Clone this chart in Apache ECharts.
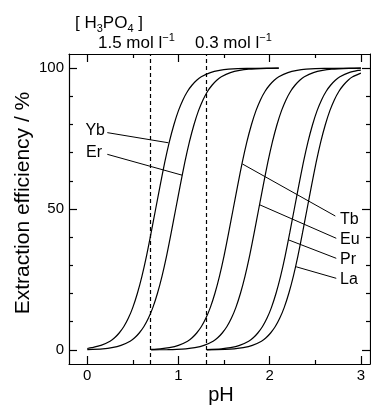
<!DOCTYPE html>
<html>
<head>
<meta charset="utf-8">
<script src="https://cdn.jsdelivr.net/npm/echarts@6/dist/echarts.min.js"></script>
<style>
  html, body { margin: 0; padding: 0; background: #fff; }
  #chart { width: 371px; height: 405px; }
</style>
</head>
<body>
<div id="chart"></div>
<script>
// extraction efficiency (%) vs pH
var ybPH = [0, 0.05, 0.15, 0.25, 0.30, 0.35, 0.40, 0.45, 0.50, 0.55, 0.60, 0.65, 0.70, 0.75, 0.80, 0.85, 0.90, 0.95, 1.00, 1.05, 1.10, 1.15, 1.20, 1.25, 1.35, 1.45, 1.55, 1.75, 2.1];
var ybE  = [0.5, 0.8, 1.6, 3.1, 4.3, 6.0, 8.2, 11.2, 15.1, 20.1, 26.2, 33.4, 41.5, 50, 58.5, 66.6, 73.8, 79.9, 84.9, 88.8, 91.8, 94.0, 95.7, 96.9, 98.4, 99.2, 99.6, 99.9, 100];

var erPH = [0, 0.17, 0.27, 0.37, 0.47, 0.52, 0.57, 0.62, 0.67, 0.72, 0.77, 0.82, 0.87, 0.92, 0.97, 1.02, 1.07, 1.12, 1.17, 1.22, 1.27, 1.32, 1.37, 1.42, 1.47, 1.57, 1.67, 1.77, 1.97, 2.1];
var erE  = [0.1, 0.4, 0.8, 1.6, 3.1, 4.3, 6.0, 8.2, 11.2, 15.1, 20.1, 26.2, 33.4, 41.5, 50, 58.5, 66.6, 73.8, 79.9, 84.9, 88.8, 91.8, 94.0, 95.7, 96.9, 98.4, 99.2, 99.6, 99.9, 100];

var tbPH = [0.7, 0.8, 0.9, 1.0, 1.1, 1.15, 1.2, 1.25, 1.3, 1.35, 1.4, 1.45, 1.5, 1.55, 1.6, 1.65, 1.7, 1.75, 1.8, 1.85, 1.9, 1.95, 2.0, 2.05, 2.1, 2.2, 2.3, 2.4, 2.6, 3.0];
var tbE  = [0.2, 0.4, 0.8, 1.6, 3.1, 4.3, 6.0, 8.2, 11.2, 15.1, 20.1, 26.2, 33.4, 41.5, 50, 58.5, 66.6, 73.8, 79.9, 84.9, 88.8, 91.8, 94.0, 95.7, 96.9, 98.4, 99.2, 99.6, 99.9, 100];

var euPH = [0.7, 0.88, 0.98, 1.08, 1.18, 1.28, 1.38, 1.43, 1.48, 1.53, 1.58, 1.63, 1.68, 1.73, 1.78, 1.83, 1.88, 1.93, 1.98, 2.03, 2.08, 2.13, 2.18, 2.23, 2.28, 2.33, 2.38, 2.48, 2.58, 2.68, 2.88, 3.0];
var euE  = [0.0, 0.1, 0.2, 0.4, 0.8, 1.6, 3.1, 4.3, 6.0, 8.2, 11.2, 15.1, 20.1, 26.2, 33.4, 41.5, 50, 58.5, 66.6, 73.8, 79.9, 84.9, 88.8, 91.8, 94.0, 95.7, 96.9, 98.4, 99.2, 99.6, 99.9, 100];

var prPH = [1.31, 1.47, 1.57, 1.67, 1.77, 1.82, 1.87, 1.92, 1.97, 2.02, 2.07, 2.12, 2.17, 2.22, 2.27, 2.32, 2.37, 2.42, 2.47, 2.52, 2.57, 2.62, 2.67, 2.72, 2.77, 2.87, 2.97, 3.0];
var prE  = [0.1, 0.4, 0.8, 1.6, 3.1, 4.3, 6.0, 8.2, 11.2, 15.1, 20.1, 26.2, 33.4, 41.5, 50, 58.5, 66.6, 73.8, 79.9, 84.9, 88.8, 91.8, 94.0, 95.7, 96.9, 98.4, 99.2, 99.3];

var laPH = [1.31, 1.51, 1.61, 1.71, 1.81, 1.91, 1.96, 2.01, 2.06, 2.11, 2.16, 2.21, 2.26, 2.31, 2.36, 2.41, 2.46, 2.51, 2.56, 2.61, 2.66, 2.71, 2.76, 2.81, 2.86, 2.91, 3.0];
var laE  = [0.0, 0.2, 0.4, 0.8, 1.6, 3.1, 4.3, 6.0, 8.2, 11.2, 15.1, 20.1, 26.2, 33.4, 41.5, 50, 58.5, 66.6, 73.8, 79.9, 84.9, 88.8, 91.8, 94.0, 95.7, 96.9, 98.2];

// pH of the H3PO4 solutions (dashed lines)
var acidPH = [0.69, 1.31];

// leader lines: [label end, curve end]
var leaderYb = [[0.22, 77.1], [0.89, 73.5]];
var leaderEr = [[0.22, 69.4], [1.04, 62.0]];
var leaderTb = [[2.72, 47.5], [1.70, 66.0]];
var leaderEu = [[2.73, 39.6], [1.89, 51.5]];
var leaderPr = [[2.73, 32.5], [2.21, 39.0]];
var leaderLa = [[2.73, 25.4], [2.29, 29.5]];

var xMajor = [0, 1, 2, 3];
var xMinor = [0.5, 1.5, 2.5];
var yMajor = [0, 50, 100];
var yMinor = [10, 20, 30, 40, 60, 70, 80, 90];

function zip(a, b) {
    var out = [];
    for (var i = 0; i < a.length; i++) out.push([a[i], b[i]]);
    return out;
}

var FONT = 'Liberation Sans';
var measure = document.createElement('canvas').getContext('2d');

// runs of text with sub/superscripts, laid out left to right from a baseline
function textRun(x, baseline, pieces) {
    var els = [], cx = x;
    pieces.forEach(function (p) {
        measure.font = p[1] + 'px "' + FONT + '"';
        els.push({
            type: 'text', x: cx, y: baseline + p[2] - 0.35 * p[1], silent: true,
            style: { text: p[0], font: p[1] + 'px "' + FONT + '"', fill: '#000', align: 'left', verticalAlign: 'middle' }
        });
        cx += measure.measureText(p[0]).width;
    });
    return els;
}

function label(text, x, y, align) {
    return {
        type: 'text', x: x, y: y, silent: true,
        style: { text: text, font: '16px "' + FONT + '"', fill: '#000', align: align, verticalAlign: 'middle' }
    };
}

var XMIN = -0.2, XMAX = 3.1, YMIN = -5, YMAX = 105;
var black = { color: '#000', width: 1.2 };

function xAx(pos, ticks, len, showLine, labels) {
    return {
        type: 'value', min: XMIN, max: XMAX, position: pos,
        axisLine: { show: showLine, onZero: false, lineStyle: black },
        axisTick: { show: true, inside: true, length: len, customValues: ticks, lineStyle: black },
        axisLabel: labels ? { show: true, customValues: ticks, margin: 4, color: '#000', fontSize: 15, fontFamily: FONT } : { show: false },
        splitLine: { show: false }
    };
}
function yAx(pos, ticks, len, showLine, labels) {
    return {
        type: 'value', min: YMIN, max: YMAX, position: pos,
        axisLine: { show: showLine, onZero: false, lineStyle: black },
        axisTick: { show: true, inside: true, length: len, customValues: ticks, lineStyle: black },
        axisLabel: labels ? { show: true, customValues: ticks, margin: 5, color: '#000', fontSize: 15, fontFamily: FONT } : { show: false },
        splitLine: { show: false }
    };
}

function curve(name, ph, e) {
    return {
        name: name, type: 'line', data: zip(ph, e), xAxisIndex: 0, yAxisIndex: 0,
        showSymbol: false, smooth: 0.25, silent: true,
        lineStyle: { color: '#000', width: 1.2 }
    };
}
function leader(pts) {
    return {
        type: 'line', data: pts, xAxisIndex: 0, yAxisIndex: 0,
        showSymbol: false, silent: true, lineStyle: { color: '#000', width: 1 }
    };
}

var series = [
    curve('Yb', ybPH, ybE), curve('Er', erPH, erE),
    curve('Tb', tbPH, tbE), curve('Eu', euPH, euE),
    curve('Pr', prPH, prE), curve('La', laPH, laE),
    leader(leaderYb), leader(leaderEr), leader(leaderTb),
    leader(leaderEu), leader(leaderPr), leader(leaderLa)
];
series[0].markLine = {
    silent: true, symbol: ['none', 'none'], label: { show: false },
    lineStyle: { color: '#000', width: 1.2, type: [4, 3] },
    data: acidPH.map(function (v) { return { xAxis: v }; })
};

var graphic = []
    .concat(textRun(75, 29, [['[ H', 17, 0], ['3', 11, 4], ['PO', 17, 0], ['4', 11, 4], [' ]', 17, 0]]))
    .concat(textRun(98, 49, [['1.5 mol l', 17, 0], ['\u22121', 11, -7]]))
    .concat(textRun(195, 49, [['0.3 mol l', 17, 0], ['\u22121', 11, -7]]))
    .concat([
        label('Yb', 105, 131, 'right'), label('Er', 102, 153, 'right'),
        label('Tb', 340, 220, 'left'), label('Eu', 340, 240, 'left'),
        label('Pr', 340, 260, 'left'), label('La', 340, 280, 'left'),
        {
            type: 'text', x: 23, y: 203, rotation: Math.PI / 2, silent: true,
            style: { text: 'Extraction efficiency / %', font: '21px "' + FONT + '"', fill: '#000', align: 'center', verticalAlign: 'middle' }
        },
        {
            type: 'text', x: 221, y: 395, silent: true,
            style: { text: 'pH', font: '20px "' + FONT + '"', fill: '#000', align: 'center', verticalAlign: 'middle' }
        }
    ]);

var myChart = echarts.init(document.getElementById('chart'), null, { renderer: 'canvas' });
myChart.setOption({
    animation: false,
    backgroundColor: '#fff',
    grid: { left: 69, right: 1, top: 54, bottom: 41, containLabel: false },
    xAxis: [
        xAx('bottom', xMajor, 8, true, true),
        xAx('bottom', xMinor, 4, false, false),
        xAx('top', xMajor, 8, true, false),
        xAx('top', xMinor, 4, false, false)
    ],
    yAxis: [
        yAx('left', yMajor, 8, true, true),
        yAx('left', yMinor, 4, false, false),
        yAx('right', yMajor, 8, true, false),
        yAx('right', yMinor, 4, false, false)
    ],
    series: series,
    graphic: graphic
});
</script>
</body>
</html>
